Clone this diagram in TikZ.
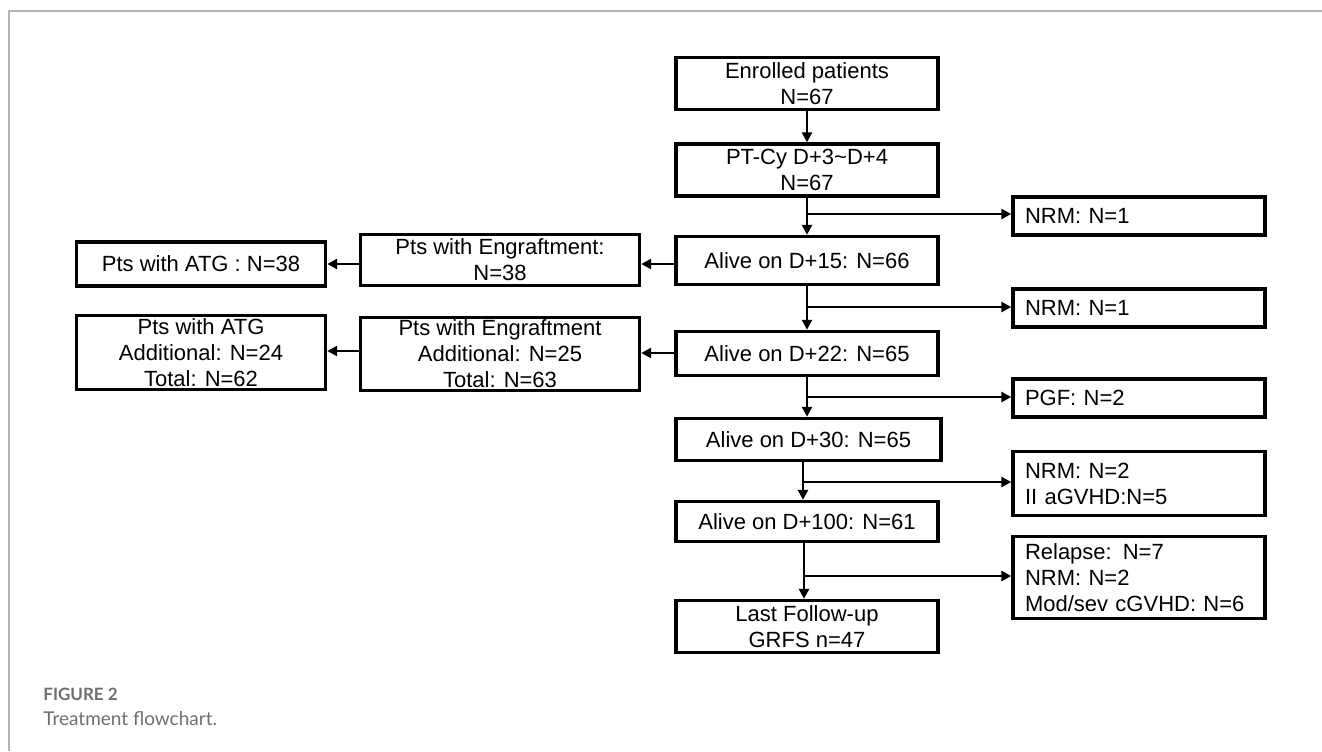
\documentclass[tikz,border=0pt]{standalone}
\usepackage{fontspec}
\setmainfont{Liberation Sans}
\newfontfamily\capfont{Lato}
\usepackage{tikz}
\usetikzlibrary{positioning, arrows.meta, calc}
\definecolor{framegrey}{HTML}{B4B4B4}
\definecolor{capgrey}{HTML}{6E6E6E}

\begin{document}
\begin{tikzpicture}[x=0.5pt, y=-0.5pt,
    box/.style={rectangle, draw=black, line width=1.7pt, minimum width=131pt,
                align=center, inner sep=1pt, font=\fontsize{11}{13}\selectfont},
    sidebox/.style={rectangle, draw=black, line width=1.7pt, text width=114pt, inner xsep=6pt,
                minimum height=19pt, align=left, font=\fontsize{11}{13}\selectfont},
    arr/.style={-{Triangle[length=5pt, width=5pt]}, line width=1.3pt},
  ]
    \useasboundingbox (0,0) rectangle (1322,751);
    \draw[framegrey, line width=1pt] (9,751) -- (9,11) -- (1322,11);

    % main column
    \node[box, minimum height=26pt] (enrol) at (807,83.5) {Enrolled patients\\N=67};
    \node[box, minimum height=26pt] (ptcy) at (807,170) {PT-Cy D+3\char`~D+4\\N=67};
    \node[box, minimum height=24pt] (d15) at (807,260.5) {Alive on D+15: N=66};
    \node[box, minimum height=22pt] (d22) at (807,353.5) {Alive on D+22: N=65};
    \node[box, minimum height=21pt, minimum width=132.5pt] (d30) at (808.5,439.5) {Alive on D+30: N=65};
    \node[box, minimum height=20pt] (d100) at (807,521.5) {Alive on D+100: N=61};
    \node[box, minimum height=26pt] (last) at (807,626.5) {Last Follow-up\\GRFS n=47};

    % events on the right
    \node[sidebox] (nrm1) at (1139,216) {NRM: N=1};
    \node[sidebox] (nrm2) at (1139,308) {NRM: N=1};
    \node[sidebox] (pgf) at (1139,398) {PGF: N=2};
    \node[sidebox, minimum height=32pt] (agvhd) at (1139,483.5) {NRM: N=2\\II aGVHD:N=5};
    \node[sidebox, minimum height=41pt] (relapse) at (1139,577.5) {Relapse: N=7\\NRM: N=2\\Mod/sev cGVHD: N=6};

    % engraftment and ATG on the left
    \node[box, minimum width=139.5pt, minimum height=25.5pt] (eng1) at (500,260) {Pts with Engraftment:\\N=38};
    \node[box, minimum width=124.5pt, minimum height=22pt] (atg1) at (201,264) {Pts with ATG : N=38};
    \node[box, minimum width=139.5pt, minimum height=36.5pt, inner sep=0pt] (eng2) at (500,354) {Pts with Engraftment\\Additional: N=25\\Total: N=63};
    \node[box, minimum width=124.5pt, minimum height=37pt, inner sep=0pt] (atg2) at (201,352.5) {Pts with ATG\\Additional: N=24\\Total: N=62};

    \coordinate (b1) at (807,214);
    \coordinate (b2) at (807,307);
    \coordinate (b3) at (807,397);
    \coordinate (b4) at (803,482);
    \coordinate (b5) at (804,576);

    \draw[arr] (enrol) -- (ptcy);
    \draw[arr] (ptcy) -- (d15);
    \draw[arr] (d15) -- (d22);
    \draw[arr] (d22.south) -- (d22.south |- d30.north);
    \draw[arr] (d30.south -| b4) -- (d100.north -| b4);
    \draw[arr] (d100.south -| b5) -- (last.north -| b5);

    \draw[arr] (b1) -- (b1 -| nrm1.west);
    \draw[arr] (b2) -- (b2 -| nrm2.west);
    \draw[arr] (b3) -- (b3 -| pgf.west);
    \draw[arr] (b4) -- (b4 -| agvhd.west);
    \draw[arr] (b5) -- (b5 -| relapse.west);

    \draw[arr] (d15.west |- 0,264) -- (eng1.east |- 0,264);
    \draw[arr] (eng1.west |- 0,264) -- (atg1.east |- 0,264);
    \draw[arr] (d22.west |- 0,353) -- (eng2.east |- 0,353);
    \draw[arr] (eng2.west |- 0,351) -- (atg2.east |- 0,351);

    % caption
    \node[anchor=base west, inner sep=0pt, text=capgrey, font=\capfont\bfseries\fontsize{8.5}{10}\selectfont] (figno) at (43,700) {FIGURE 2};
    \node[anchor=base west, inner sep=0pt, text=capgrey, font=\capfont\fontsize{9.5}{11}\selectfont] (figcap) at (43,725) {Treatment flowchart.};
  \end{tikzpicture}
\end{document}
